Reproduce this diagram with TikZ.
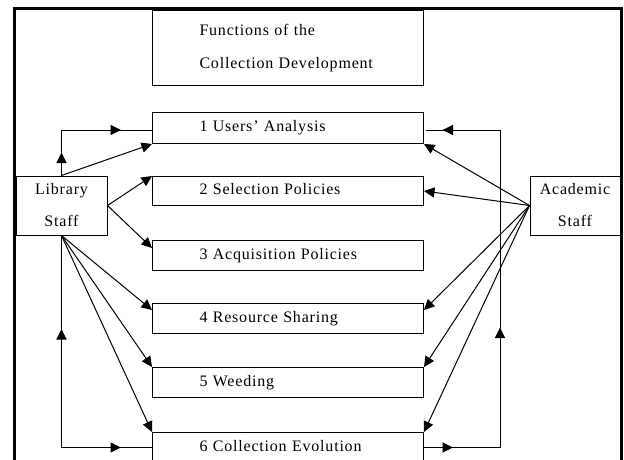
\documentclass[tikz,border=0pt]{standalone}
\usepackage{fontspec}
\setmainfont{Liberation Serif}[LetterSpace=5]
\usetikzlibrary{arrows.meta,decorations.markings,calc}
\newcommand{\indt}{\hspace*{47pt}}
\begin{document}
\begin{tikzpicture}[x=1pt,y=-1pt,
  T/.tip={Triangle[length=10.5pt,width=10pt]},
  frame/.style={line width=3pt},
  box/.style={draw, line width=1pt, anchor=north west, minimum height=30pt,
    text width=271pt, inner xsep=0pt, inner ysep=0pt, align=left,
    text height=11pt, text depth=3.5pt, font=\fontsize{16}{20}\selectfont},
  titlebox/.style={draw, line width=1pt, anchor=north west, minimum height=75pt,
    text width=271pt, inner xsep=0pt, inner ysep=0pt, align=left,
    font=\fontsize{16}{32.5}\selectfont},
  staff/.style={draw, line width=1pt, inner sep=0pt, align=center,
    minimum height=59pt, font=\fontsize{16}{32}\selectfont},
  conn/.style={draw, line width=1pt, -{T}},
  route/.style={draw, line width=1pt}
]
\useasboundingbox (0,0) rectangle (624,460);
\clip (0,0) rectangle (624,460);
\fill[white] (0,0) rectangle (624,460);
\draw[frame] (14,9) rectangle (621,500);

\node[titlebox] (title) at (152,10) {\indt Functions of the\\\indt Collection Development};
\node[box, minimum height=31pt] (b1) at (152,112) {\indt 1 Users' Analysis};
\node[box, minimum height=29pt] (b2) at (152,176) {\indt 2 Selection Policies};
\node[box] (b3) at (152,240) {\indt 3 Acquisition Policies};
\node[box] (b4) at (152,303) {\indt 4 Resource Sharing};
\node[box] (b5) at (152,367) {\indt 5 Weeding};
\node[box] (b6) at (152,432) {\indt 6 Collection Evolution};

\node[staff, minimum width=91pt] (ls) at (61.5,205.5) {Library\\Staff};
\node[staff, minimum width=90pt] (as) at (575,205.5) {Academic\\Staff};

\coordinate (lc) at (61.5,130);
\coordinate (rc) at (500,130);

% routed connectors with mid arrows
\draw[route, postaction={decorate}, decoration={markings,
   mark=at position 23pt with {\arrow{T}},
   mark=at position 105pt with {\arrow{T}}}]
  (ls.north) -- (lc) -- (b1.west |- lc);
\draw[route, postaction={decorate}, decoration={markings,
   mark=at position 31pt with {\arrowreversed{T}},
   mark=at position 209pt with {\arrow{T}}}]
  (b6.west) -| (ls.south);
\draw[route, postaction={decorate}, decoration={markings,
   mark=at position 29pt with {\arrow{T}},
   mark=at position 196pt with {\arrow{T}},
   mark=at position 451pt with {\arrow{T}}}]
  (b6.east) -| (rc) -- ($(b1.east |- rc)+(2,0)$);

% library staff
\draw[conn] (ls.north) -- (b1.south west);
\draw[conn] (ls.east) -- (b2.north west);
\draw[conn] (ls.east) -- ($(b3.north west)+(0,8)$);
\draw[conn] (ls.south) -- ($(b4.north west)+(0,7)$);
\draw[conn] (ls.south) -- (b5.north west);
\draw[conn] (ls.south) -- (b6.north west);

% academic staff
\draw[conn] (as.west) -- (b1.south east);
\draw[conn] (as.west) -- (b2.east);
\draw[conn] (as.west) -- ($(b4.north east)+(0,7)$);
\draw[conn] (as.west) -- (b5.north east);
\draw[conn] (as.west) -- (b6.north east);
\end{tikzpicture}
\end{document}
